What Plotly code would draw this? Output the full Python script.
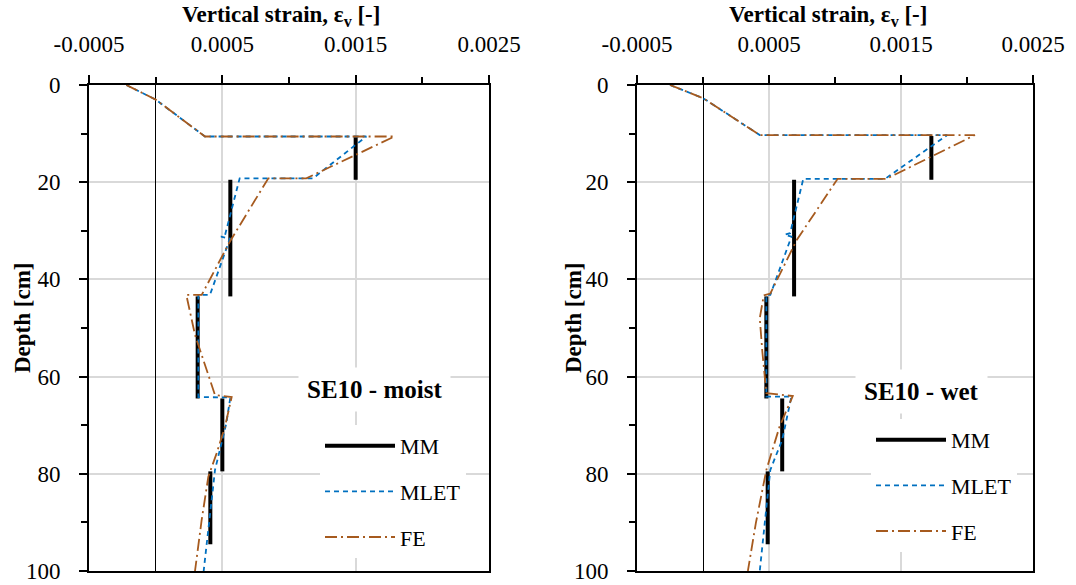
import plotly.graph_objects as go

W, H = 1076, 585
FONT = "Liberation Serif"

# ---------------- data ----------------
# MM (measured) : constant strain per layer
mm_moist_strain = [0.0015, 0.00056, 0.000315, 0.0005, 0.00041]
mm_wet_strain = [0.00173, 0.00069, 0.00048, 0.0006, 0.00049]
mm_top = [10.5, 19.5, 43.5, 64.5, 79.5]
mm_bot = [19.5, 43.5, 64.5, 79.5, 94.5]

# MLET moist
mlet_moist_depth = [0, 3, 10.6, 10.6, 19.2, 19.2, 30.9, 31.2, 31.6, 43.2, 43.2, 64.2, 64.3, 69.6, 79.2, 100]
mlet_moist_strain = [-0.00022, 0, 0.00037, 0.00158, 0.00118, 0.00063, 0.00052, 0.00049, 0.000557, 0.000407, 0.00032, 0.00032, 0.00056, 0.00053, 0.000445, 0.00036]
# FE moist
fe_moist_depth = [0, 3, 10.6, 10.6, 19.2, 19.2, 32.2, 43.2, 43.2, 47, 51.4, 63.8, 64.2, 70.3, 75.8, 80.6, 89.5, 100]
fe_moist_strain = [-0.00022, 0, 0.00037, 0.00179, 0.00113, 0.000845, 0.000557, 0.000345, 0.00023, 0.00026, 0.000295, 0.000445, 0.00057, 0.00052, 0.000457, 0.000395, 0.000345, 0.000295]

# MLET wet
mlet_wet_depth = [0, 2.7, 10.3, 10.3, 19.3, 19.3, 30.5, 30.8, 31.2, 43.2, 43.2, 64.1, 64.1, 73, 79.2, 100]
mlet_wet_strain = [-0.00025, 0, 0.00043, 0.00185, 0.00138, 0.00076, 0.00066, 0.00062, 0.00067, 0.00051, 0.00048, 0.00048, 0.00067, 0.0006, 0.00051, 0.00043]
# FE wet
fe_wet_depth = [0, 2.7, 10.3, 10.3, 19.3, 19.3, 31.9, 42.9, 43.3, 48, 55, 63.4, 64, 70.3, 76.5, 79.2, 90.2, 100]
fe_wet_strain = [-0.00025, 0, 0.00043, 0.00206, 0.00139, 0.00102, 0.00071, 0.00051, 0.00046, 0.00043, 0.00045, 0.00048, 0.00068, 0.00058, 0.00051, 0.00048, 0.0004, 0.00034]

x_range = [-0.0005, 0.0025]
x_tickvals = [-0.0005, 0.0005, 0.0015, 0.0025]
x_ticktext = ["-0.0005", "0.0005", "0.0015", "0.0025"]
y_range = [100, 0]
panel_titles = ["SE10 - moist", "SE10 - wet"]
series_names = ["MM", "MLET", "FE"]

BLUE = "#0070C0"
BROWN = "#A65A1E"


def segs(strain, top, bot):
    xs, ys = [], []
    for s, t, b in zip(strain, top, bot):
        xs += [s, s, None]
        ys += [t, b, None]
    return xs, ys


fig = go.Figure()

panels = [
    (mm_moist_strain, mlet_moist_strain, mlet_moist_depth, fe_moist_strain, fe_moist_depth, "x", "y", "legend"),
    (mm_wet_strain, mlet_wet_strain, mlet_wet_depth, fe_wet_strain, fe_wet_depth, "x2", "y2", "legend2"),
]
for i, (mm_s, ml_s, ml_d, fe_s, fe_d, xa, ya, lg) in enumerate(panels):
    mx, my = segs(mm_s, mm_top, mm_bot)
    fig.add_trace(go.Scatter(x=mx, y=my, mode="lines", name=series_names[0], xaxis=xa, yaxis=ya,
                             line=dict(color="black", width=4), legend=lg, legendgroup=f"mm{i}"))
    fig.add_trace(go.Scatter(x=ml_s, y=ml_d, mode="lines", name=series_names[1], xaxis=xa, yaxis=ya,
                             line=dict(color=BLUE, width=1.8, dash="5px,4px"), legend=lg, legendgroup=f"ml{i}"))
    fig.add_trace(go.Scatter(x=fe_s, y=fe_d, mode="lines", name=series_names[2], xaxis=xa, yaxis=ya,
                             line=dict(color=BROWN, width=1.8, dash="12px,4px,2px,4px"), legend=lg, legendgroup=f"fe{i}"))

tickfont = dict(family=FONT, size=23, color="black")


def xaxis(domain, anchor):
    return dict(domain=domain, anchor=anchor, range=x_range, side="top", automargin=False,
                tickmode="array", tickvals=x_tickvals, ticktext=x_ticktext,
                ticks="outside", ticklen=8, tickwidth=1.5, tickcolor="black",
                showline=True, linecolor="black", linewidth=2, mirror=True,
                showgrid=True, gridcolor="#D9D9D9", gridwidth=1.5,
                zeroline=True, zerolinecolor="black", zerolinewidth=1.3,
                minor=dict(tick0=-0.0005, dtick=0.0005, ticks="outside", ticklen=6,
                           tickwidth=1.5, tickcolor="black", showgrid=False),
                tickfont=tickfont, ticklabelstandoff=14)


def yaxis(domain, anchor):
    return dict(domain=domain, anchor=anchor, range=y_range, automargin=False,
                tick0=0, dtick=20, ticks="outside", ticklen=8, tickwidth=1.5, tickcolor="black",
                showline=True, linecolor="black", linewidth=2, mirror=True,
                showgrid=True, gridcolor="#D9D9D9", gridwidth=1.5, zeroline=False,
                minor=dict(tick0=0, dtick=10, ticks="outside", ticklen=6, tickwidth=1.5,
                           tickcolor="black", showgrid=False),
                tickfont=tickfont, ticklabelstandoff=14)


ydom = [1 - 571 / H, 1 - 85 / H]
fig.update_layout(
    width=W, height=H, margin=dict(l=0, r=0, t=0, b=0, autoexpand=False),
    paper_bgcolor="white", plot_bgcolor="white",
    xaxis=xaxis([89 / W, 489 / W], "y"),
    yaxis=yaxis(ydom, "x"),
    xaxis2=xaxis([637 / W, 1033 / W], "y2"),
    yaxis2=yaxis(ydom, "x2"),
    legend=dict(x=320 / W, y=1 - 425 / H, xanchor="left", yanchor="top", bgcolor="white",
                font=dict(family=FONT, size=22, color="black"), itemwidth=70, tracegroupgap=14),
    legend2=dict(x=871 / W, y=1 - 419 / H, xanchor="left", yanchor="top", bgcolor="white",
                 font=dict(family=FONT, size=22, color="black"), itemwidth=70, tracegroupgap=14),
    showlegend=True,
)

ann = []
for cx in (281, 828):
    ann.append(dict(text="<b>Vertical strain, ε<sub>v</sub> [-]</b>", x=cx / W, y=1 - 16 / H,
                    xref="paper", yref="paper", xanchor="center", yanchor="middle", showarrow=False,
                    font=dict(family=FONT, size=23, color="black")))
for cx in (22, 573):
    ann.append(dict(text="<b>Depth [cm]</b>", x=cx / W, y=1 - 318 / H, textangle=-90,
                    xref="paper", yref="paper", xanchor="center", yanchor="middle", showarrow=False,
                    font=dict(family=FONT, size=23, color="black")))
for (cx, cy), t in zip([(374, 389), (921, 391)], panel_titles):
    ann.append(dict(text=f"<b>{t}</b>", x=cx / W, y=1 - cy / H, xref="paper", yref="paper",
                    xanchor="center", yanchor="middle",
                    showarrow=False, bgcolor="white", borderpad=8,
                    font=dict(family=FONT, size=25, color="black")))
fig.update_layout(annotations=ann)

fig.write_html("out.html", config={"displayModeBar": False},
               post_script="document.body.style.margin='0';")
